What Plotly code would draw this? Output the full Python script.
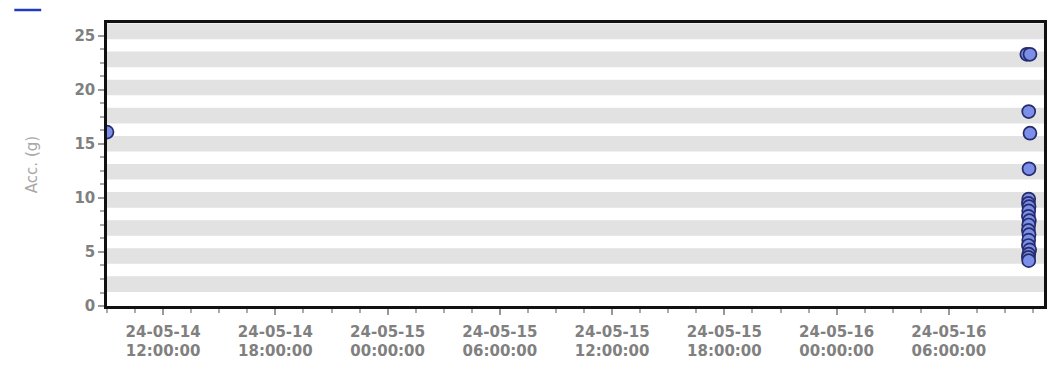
import plotly.graph_objects as go

# Data
times = [
    "2024-05-14 09:00:00",
    "2024-05-16 10:10:00", "2024-05-16 10:20:00",
    "2024-05-16 10:16:00", "2024-05-16 10:20:00", "2024-05-16 10:17:00",
    "2024-05-16 10:16:00", "2024-05-16 10:15:00", "2024-05-16 10:17:00",
    "2024-05-16 10:16:00", "2024-05-16 10:15:00", "2024-05-16 10:18:00",
    "2024-05-16 10:16:00", "2024-05-16 10:15:00", "2024-05-16 10:17:00",
    "2024-05-16 10:16:00", "2024-05-16 10:15:00", "2024-05-16 10:19:00",
    "2024-05-16 10:16:00", "2024-05-16 10:15:00", "2024-05-16 10:16:00",
]
acc = [
    16.1,
    23.3, 23.3,
    18.0, 16.0, 12.7,
    9.9, 9.5, 9.2,
    8.8, 8.3, 7.9,
    7.5, 7.0, 6.6,
    6.1, 5.6, 5.2,
    4.8, 4.5, 4.2,
]
x_range = ["2024-05-14 09:00:00", "2024-05-16 11:05:00"]
y_range = [0, 26.2]
y_ticks = [0, 5, 10, 15, 20, 25]

fig = go.Figure()
fig.add_trace(go.Scatter(
    x=times, y=acc, mode="markers", showlegend=False,
    marker=dict(size=13, color="#7b8ee8", line=dict(color="#262c6b", width=1.7)),
))

# alternating grey bands
for k in range(10):
    lo = 1.3 + 2.6 * k
    hi = min(lo + 1.45, y_range[1])
    fig.add_shape(type="rect", xref="paper", yref="y", x0=0, x1=1, y0=lo, y1=hi,
                  fillcolor="#e2e2e2", line=dict(width=0), layer="below")

# legend swatch (series line key, top-left)
fig.add_shape(type="line", xref="paper", yref="paper",
              x0=(14 - 107) / 940, x1=(41 - 107) / 940,
              y0=1 + 13 / 283, y1=1 + 13 / 283,
              line=dict(color="#1f3cc0", width=2.5))

tickfont = dict(size=15, color="#808080", family="DejaVu Sans", weight="bold")

fig.update_layout(
    width=1052, height=368,
    margin=dict(l=107, r=5, t=23, b=62),
    paper_bgcolor="white", plot_bgcolor="white",
    font=dict(family="DejaVu Sans", color="#858585"),
    showlegend=False,
)
fig.update_xaxes(
    type="date", range=x_range,
    tick0="2024-05-14 00:00:00", dtick=6 * 3600 * 1000,
    tickformat="%y-%m-%d<br>%H:%M:%S",
    tickfont=tickfont, ticklabelstandoff=4,
    ticks="outside", ticklen=6, tickcolor="#999999", tickwidth=1.5,
    minor=dict(dtick=1.5 * 3600 * 1000, ticks="outside", ticklen=4, tickcolor="#aaaaaa", showgrid=False),
    showgrid=False, zeroline=False,
    showline=True, linecolor="#111111", linewidth=2.5, mirror=True,
)
fig.update_yaxes(
    range=y_range, tickvals=y_ticks,
    tickfont=tickfont,
    ticks="outside", ticklen=6, tickcolor="#999999", tickwidth=1.5,
    minor=dict(dtick=1.25, ticks="outside", ticklen=4, tickcolor="#aaaaaa", showgrid=False),
    showgrid=False, zeroline=False,
    showline=True, linecolor="#111111", linewidth=2.5, mirror=True,
    title=dict(text="Acc. (g)", font=dict(size=15, color="#a8a8a8"), standoff=34),
)

fig.write_html("out.html")
